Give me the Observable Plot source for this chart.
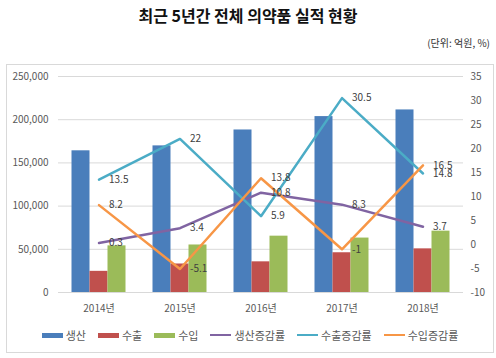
<!DOCTYPE html>
<html><head><meta charset="utf-8">
<script src="https://cdn.jsdelivr.net/npm/d3@7"></script>
<script src="https://cdn.jsdelivr.net/npm/@observablehq/plot@0.6"></script>
<style>
body{margin:0;background:#fff;font-family:"Noto Sans CJK KR","Noto Sans",sans-serif;width:496px;height:358px;position:relative;overflow:hidden}
#title{position:absolute;left:0;top:4px;width:496px;text-align:center;font-size:16px;font-weight:bold;color:#111;line-height:22px}
#unit{position:absolute;right:6px;top:36px;font-size:10px;color:#333;line-height:14px}
#box{position:absolute;left:6px;top:64px;width:486px;height:287px;border:1px solid #d9d9d9}
#legend{display:flex;justify-content:center;align-items:center;height:26px;font-size:11px;color:#595959;gap:12px}
.item{display:flex;align-items:center}
.sw{display:inline-block;width:21px;margin-right:3px}
</style></head>
<body>
<div id="title">최근 5년간 전체 의약품 실적 현황</div>
<div id="unit">(단위: 억원, %)</div>
<div id="box"><div id="chart"></div><div id="legend"></div></div>
<script>
const years = ["2014년","2015년","2016년","2017년","2018년"];
const production = [164000,169700,188100,203600,211300];
const exportsV = [24500,33000,35500,46000,50500];
const importsV = [54000,55000,65200,63000,71000];
const prodGrowth = [0.3,3.4,10.8,8.3,3.7];
const expGrowth = [13.5,22,5.9,30.5,14.8];
const impGrowth = [8.2,-5.1,13.8,-1,16.5];
const leftTicks = [0,50000,100000,150000,200000,250000];
const rightTicks = [-10,-5,0,5,10,15,20,25,30,35];

const barSeries = [
  {name:"생산", values:production, color:"#4a7ebb", dx:-18},
  {name:"수출", values:exportsV, color:"#c0504d", dx:0},
  {name:"수입", values:importsV, color:"#9bbb59", dx:18}
];
const lineSeries = [
  {name:"생산증감률", values:prodGrowth, color:"#8064a2"},
  {name:"수출증감률", values:expGrowth, color:"#4bacc6"},
  {name:"수입증감률", values:impGrowth, color:"#f79646"}
];
const L0 = 0, L1 = 250000, R0 = -10, R1 = 35;
const toLeft = r => (r - R0) / (R1 - R0) * (L1 - L0) + L0;
const fromLeft = l => Math.round(((l - L0) / (L1 - L0) * (R1 - R0) + R0) * 10) / 10;

const idx = years.map((y, i) => i);
const marks = [
  Plot.gridY(leftTicks, {stroke:"#d9d9d9", strokeOpacity:1}),
  Plot.axisY(leftTicks, {tickSize:0, tickPadding:10, tickFormat:d3.format(","), label:null, fill:"#595959"}),
  Plot.axisY(rightTicks.map(toLeft), {anchor:"right", tickSize:0, tickPadding:7, tickFormat:d => String(fromLeft(d)), label:null, fill:"#595959"}),
  Plot.axisX({tickSize:0, tickPadding:12, label:null, fill:"#595959"})
];
for (const s of barSeries) {
  marks.push(Plot.barY(idx, {x:i => years[i], y:i => s.values[i], fill:s.color, dx:s.dx, insetLeft:31.5, insetRight:31.5}));
}
for (const s of lineSeries) {
  marks.push(Plot.line(idx, {x:i => years[i], y:i => toLeft(s.values[i]), stroke:s.color, strokeWidth:2.5}));
}
for (const s of lineSeries) {
  marks.push(Plot.text(idx, {x:i => years[i], y:i => toLeft(s.values[i]), text:i => String(s.values[i]), dx:10, textAnchor:"start", fill:"#404040", fontSize:10}));
}
const chart = Plot.plot({
  width:486, height:257, marginLeft:51, marginRight:30, marginTop:11, marginBottom:30,
  x:{domain:years, padding:0, axis:null},
  y:{domain:[L0, L1], axis:null},
  style:{fontFamily:'"Noto Sans CJK KR","Noto Sans",sans-serif', fontSize:"10px", background:"#fff"},
  marks
});
document.getElementById("chart").appendChild(chart);

const leg = document.getElementById("legend");
for (const s of barSeries) {
  leg.insertAdjacentHTML("beforeend", `<span class="item"><span class="sw" style="height:5px;background:${s.color}"></span>${s.name}</span>`);
}
for (const s of lineSeries) {
  leg.insertAdjacentHTML("beforeend", `<span class="item"><span class="sw" style="height:2.5px;background:${s.color}"></span>${s.name}</span>`);
}
</script>
</body></html>
